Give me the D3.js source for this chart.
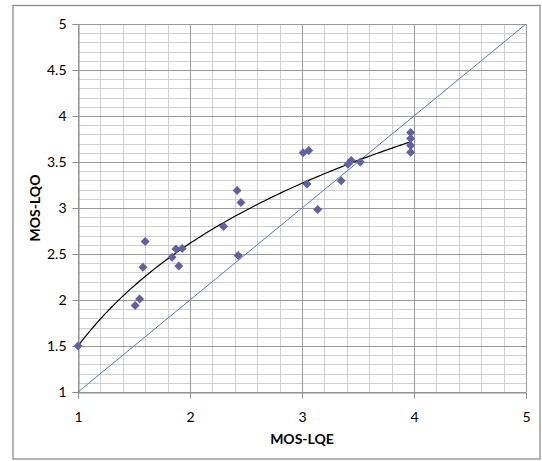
<!DOCTYPE html>
<html><head><meta charset="utf-8">
<script src="https://cdn.jsdelivr.net/npm/d3@7"></script>
<style>body{margin:0;background:#fff}svg{display:block}</style>
</head><body>
<script>
// Data (MOS-LQE, MOS-LQO)
const lqe = [1.0, 1.51, 1.55, 1.58, 1.60, 1.84, 1.875, 1.90, 1.93, 2.30, 2.42, 2.43, 2.455, 3.01, 3.06, 3.045, 3.14, 3.35, 3.41, 3.44, 3.52, 3.97, 3.97, 3.97, 3.97];
const lqo = [1.5, 1.94, 2.01, 2.355, 2.635, 2.465, 2.555, 2.37, 2.56, 2.80, 3.19, 2.485, 3.06, 3.60, 3.625, 3.26, 2.985, 3.295, 3.475, 3.515, 3.50, 3.82, 3.755, 3.68, 3.605];
const xTicks = [1, 2, 3, 4, 5];
const yTicks = [1, 1.5, 2, 2.5, 3, 3.5, 4, 4.5, 5];
// Logarithmic trendline coefficients: y = a + b ln(x)
const trendA = 1.5, trendB = 1.61;

const W = 542, H = 461;
const svg = d3.select("body").append("svg").attr("width", W).attr("height", H);
const font = "Lato, 'Open Sans', sans-serif";

svg.append("rect").attr("x", 13).attr("y", 5.5).attr("width", 527).attr("height", 453.5)
  .attr("fill", "#fff").attr("stroke", "#8c8c8c").attr("stroke-width", 1.3);

const x = d3.scaleLinear().domain([1, 5]).range([78, 526]);
const y = d3.scaleLinear().domain([1, 5]).range([392, 24]);

const g = svg.append("g");
// minor grid
d3.range(1, 5.001, 0.1).forEach(v => {
  g.append("line").attr("x1", x(1)).attr("x2", x(5)).attr("y1", Math.round(y(v)) + 0.5).attr("y2", Math.round(y(v)) + 0.5)
    .attr("stroke", "#d0d0d0").attr("stroke-width", 1);
});
d3.range(1, 5.001, 0.2).forEach(v => {
  g.append("line").attr("y1", y(1)).attr("y2", y(5)).attr("x1", Math.round(x(v)) + 0.5).attr("x2", Math.round(x(v)) + 0.5)
    .attr("stroke", "#d0d0d0").attr("stroke-width", 1);
});
// major grid
yTicks.forEach(v => {
  g.append("line").attr("x1", x(1)).attr("x2", x(5)).attr("y1", Math.round(y(v)) + 0.5).attr("y2", Math.round(y(v)) + 0.5)
    .attr("stroke", "#9a9a9a").attr("stroke-width", 1);
});
xTicks.forEach(v => {
  g.append("line").attr("y1", y(1)).attr("y2", y(5)).attr("x1", Math.round(x(v)) + 0.5).attr("x2", Math.round(x(v)) + 0.5)
    .attr("stroke", "#9a9a9a").attr("stroke-width", 1);
});

// axes
const yAxis = d3.axisLeft(y).tickValues(yTicks).tickSize(6).tickPadding(6).tickFormat(d3.format("~g"));
const xAxis = d3.axisBottom(x).tickValues(xTicks).tickSize(6).tickPadding(14).tickFormat(d3.format("~g"));
const ya = svg.append("g").attr("transform", `translate(${Math.round(x(1)) + 0.5},0)`).call(yAxis);
const xa = svg.append("g").attr("transform", `translate(0,${Math.round(y(1)) + 0.5})`).call(xAxis);
[ya, xa].forEach(a => {
  a.select(".domain").attr("stroke", "#8c8c8c");
  a.selectAll(".tick line").attr("stroke", "#8c8c8c");
  a.selectAll("text").attr("font-family", font).attr("font-size", 14).attr("fill", "#000");
});

// y = x reference line
svg.append("line").attr("x1", x(1)).attr("y1", y(1)).attr("x2", x(5)).attr("y2", y(5))
  .attr("stroke", "#4a7ebb").attr("stroke-width", 1);

// trendline
const xmin = d3.min(lqe), xmax = d3.max(lqe);
const tl = d3.range(0, 101).map(i => xmin + (xmax - xmin) * i / 100);
svg.append("path").datum(tl)
  .attr("d", d3.line().x(d => x(d)).y(d => y(trendA + trendB * Math.log(d))))
  .attr("fill", "none").attr("stroke", "#000").attr("stroke-width", 1.2);

// markers
const pts = lqe.map((v, i) => [v, lqo[i]]);
svg.append("g").selectAll("path").data(pts).join("path")
  .attr("d", "M0,-4.5L4.5,0L0,4.5L-4.5,0Z")
  .attr("transform", d => `translate(${x(d[0])},${y(d[1])})`)
  .attr("fill", "#6060a2");

// axis titles
svg.append("text").attr("x", 302).attr("y", 444).attr("text-anchor", "middle")
  .attr("font-family", font).attr("font-weight", "bold").attr("font-size", 14).text("MOS-LQE");
svg.append("text").attr("transform", "translate(40,208) rotate(-90)").attr("text-anchor", "middle")
  .attr("font-family", font).attr("font-weight", "bold").attr("font-size", 14).text("MOS-LQO");
</script>
</body></html>
